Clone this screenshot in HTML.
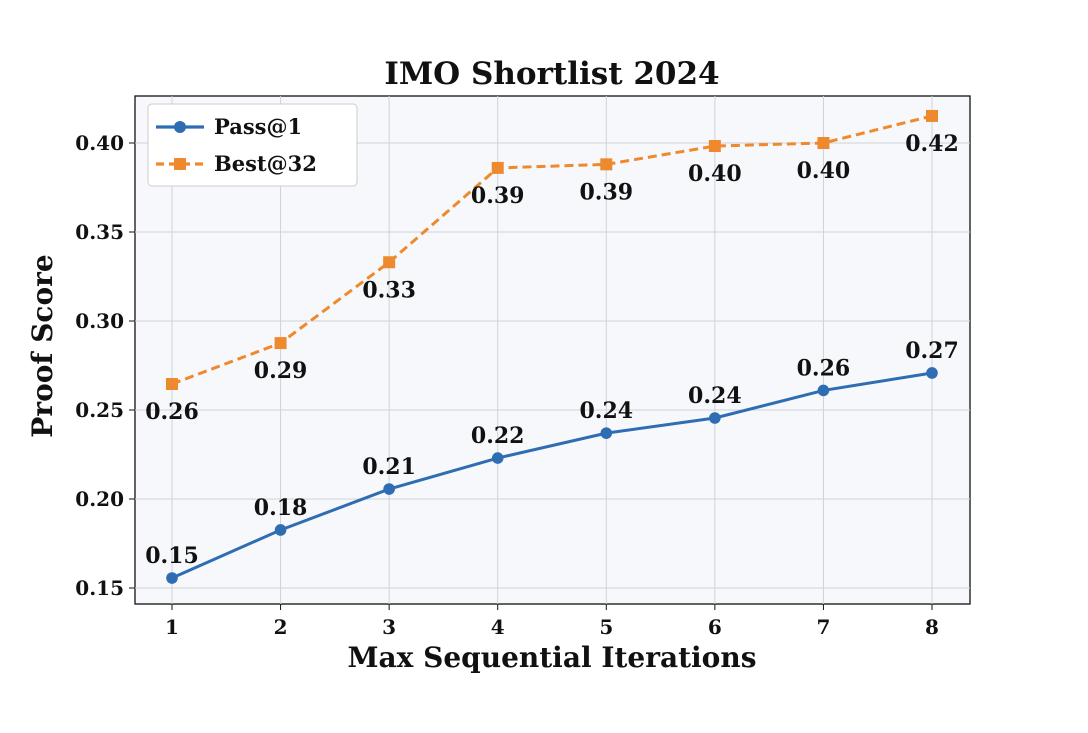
<!DOCTYPE html>
<html><head><meta charset="utf-8"><style>
body{margin:0;background:#fff;}
svg text{font-family:"DejaVu Serif","Liberation Serif",serif;font-weight:bold;fill:#111;}
</style></head><body>
<svg id="chart" width="1088" height="728">
<rect x="0" y="0" width="1088" height="728" fill="#ffffff"/>
<rect x="135" y="96" width="835" height="508" fill="#f7f8fb" stroke="#111" stroke-width="1.3"/>
<g id="grid"></g><g id="axes"></g><g id="series"></g>
<text x="552" y="84" text-anchor="middle" font-size="31">IMO Shortlist 2024</text>
<text x="552" y="667" text-anchor="middle" font-size="28">Max Sequential Iterations</text>
<text transform="translate(52,346) rotate(-90)" text-anchor="middle" font-size="28">Proof Score</text>
<g>
<rect x="148" y="104" width="209" height="82" rx="4" fill="#fff" stroke="#ccc"/>
<g>
<line x1="156" y1="127" x2="204" y2="127" stroke="#2f6db3" stroke-width="3.2"/>
<circle cx="180" cy="127" r="6" fill="#2f6db3"/>
<text x="214" y="134" font-size="21">Pass@1</text></g>
<g>
<line x1="156" y1="164" x2="204" y2="164" stroke="#ee8a2d" stroke-width="3.2" stroke-dasharray="8,5"/>
<rect x="174" y="158" width="12" height="12" fill="#ee8a2d"/>
<text x="214" y="171" font-size="21">Best@32</text></g>
</g>
</svg>
<script>
const categories=[1,2,3,4,5,6,7,8];
const yTicks=[0.15,0.20,0.25,0.30,0.35,0.40];
const yTickLabels=["0.15","0.20","0.25","0.30","0.35","0.40"];
const pass1=[0.1556,0.1826,0.2056,0.223,0.237,0.2455,0.261,0.2708];
const pass1Labels=["0.15","0.18","0.21","0.22","0.24","0.24","0.26","0.27"];
const best32=[0.2646,0.2876,0.333,0.386,0.388,0.3983,0.40,0.4152];
const best32Labels=["0.26","0.29","0.33","0.39","0.39","0.40","0.40","0.42"];
const NS="http://www.w3.org/2000/svg";
function xs(v){return 172+(v-1)*(932-172)/7;}
function ys(v){return 588-(v-0.15)*(588-143)/0.25;}
function mk(t,a,p){const e=document.createElementNS(NS,t);for(const k in a)e.setAttribute(k,a[k]);p.appendChild(e);return e;}
const grid=document.getElementById('grid'),axes=document.getElementById('axes'),ser=document.getElementById('series');
categories.forEach(c=>{
 const l=mk('line',{x1:xs(c),x2:xs(c),y1:96,y2:604,stroke:'#cfd2d8','stroke-width':1},grid);
 
 
 mk('line',{x1:xs(c),x2:xs(c),y1:604,y2:610,stroke:'#111'},axes);
 const t=mk('text',{x:xs(c),y:634,'text-anchor':'middle','font-size':20},axes);t.textContent=c;
 
 
});
yTicks.forEach((v,i)=>{
 const l=mk('line',{x1:135,x2:970,y1:ys(v),y2:ys(v),stroke:'#cfd2d8','stroke-width':1},grid);
 
 
 mk('line',{x1:129,x2:135,y1:ys(v),y2:ys(v),stroke:'#111'},axes);
 const t=mk('text',{x:124,y:ys(v)+7,'text-anchor':'end','font-size':20},axes);t.textContent=yTickLabels[i];
 
 
});
function series(vals,labels,color,dash,square,dy,name){
 const pl=mk('polyline',{points:vals.map((v,i)=>xs(categories[i])+','+ys(v)).join(' '),fill:'none',stroke:color,'stroke-width':3,'stroke-dasharray':dash},ser);
 
 
 vals.forEach((v,i)=>{
  const x=xs(categories[i]),y=ys(v);
  const m=square?mk('rect',{x:x-6,y:y-6,width:12,height:12,fill:color},ser):mk('circle',{cx:x,cy:y,r:5.8,fill:color},ser);
  
  
  const t=mk('text',{x:x,y:y+dy,'text-anchor':'middle','font-size':22},ser);t.textContent=labels[i];
  
  
 });
}
series(pass1,pass1Labels,'#2f6db3','none',false,-15,'pass1');
series(best32,best32Labels,'#ee8a2d','9,5',true,35,'best32');
</script>
</body></html>
